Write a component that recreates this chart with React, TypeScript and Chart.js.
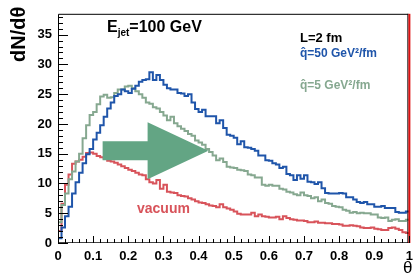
import React, { useEffect, useRef } from "react";
import { Chart, registerables } from "chart.js";

Chart.register(...registerables);

// Histogram binning (100 bins on theta in [0, 1])
const BIN_LOW = 0;
const BIN_WIDTH = 0.01;

// qhat = 50 GeV^2/fm (blue)
const q50 = [
  0.8, 2.6, 4.5, 6.1, 8.3, 10.2, 11.8, 13.4, 14.9, 15.8,
  17.4, 18.5, 19.8, 21.2, 22.6, 23.6, 24.7, 25.0, 25.8, 25.5,
  25.2, 25.9, 26.4, 27.1, 27.4, 27.5, 28.7, 27.4, 28.2, 27.4,
  26.6, 26.0, 25.8, 25.8, 25.2, 25.1, 24.7, 25.0, 23.6, 22.5,
  22.0, 22.4, 21.3, 21.3, 21.3, 20.1, 20.6, 19.3, 18.2, 18.0,
  17.7, 16.6, 17.1, 16.1, 16.0, 15.8, 15.5, 14.7, 14.7, 13.9,
  13.8, 13.4, 13.2, 12.6, 12.8, 11.6, 11.4, 10.6, 11.4, 10.8,
  11.4, 10.3, 10.2, 9.9, 10.2, 9.2, 8.4, 8.3, 8.3, 8.3,
  8.4, 8.3, 7.7, 7.7, 7.3, 6.9, 6.7, 6.9, 6.5, 6.5,
  6.1, 6.1, 6.2, 5.9, 5.9, 5.9, 5.2, 5.1, 5.1, 5.3,
];

// qhat = 5 GeV^2/fm (grey-green)
const q5 = [
  3.5, 6.4, 8.3, 10.7, 12.0, 13.7, 15.0, 17.6, 19.8, 21.5,
  22.0, 23.3, 24.6, 24.9, 24.4, 24.5, 25.2, 25.8, 25.8, 26.3,
  26.4, 26.0, 25.5, 25.0, 24.4, 23.6, 23.4, 22.8, 22.6, 22.0,
  21.4, 20.6, 21.2, 20.1, 19.6, 19.2, 18.8, 18.3, 18.0, 17.2,
  16.9, 16.5, 15.8, 15.3, 14.7, 13.9, 14.2, 13.6, 12.8, 12.7,
  12.6, 12.3, 12.2, 12.1, 11.5, 11.4, 11.0, 11.0, 9.8, 9.6,
  9.8, 9.6, 9.6, 9.1, 9.0, 8.6, 8.5, 8.2, 8.0, 8.5,
  8.0, 7.9, 7.5, 7.7, 7.0, 7.3, 6.7, 6.6, 6.2, 6.1,
  6.0, 5.6, 5.4, 5.1, 5.2, 5.0, 5.1, 5.0, 5.0, 4.8,
  4.8, 4.3, 4.2, 4.3, 3.7, 3.9, 4.0, 3.7, 3.7, 3.9,
];

// vacuum (red)
const vacuum = [
  2.0, 6.6, 9.8, 11.5, 13.3, 13.7, 14.0, 14.5, 15.1, 15.2,
  15.0, 14.6, 14.4, 14.2, 13.8, 13.7, 13.5, 13.2, 12.9, 12.6,
  12.3, 12.1, 11.8, 11.5, 11.4, 10.7, 10.2, 10.0, 10.6, 9.1,
  9.8, 8.6, 8.5, 8.4, 8.0, 7.9, 7.8, 7.5, 7.3, 7.0,
  6.8, 6.7, 6.5, 6.3, 6.2, 6.0, 6.5, 6.0, 5.8, 5.6,
  5.3, 4.9, 4.8, 4.8, 4.8, 5.1, 4.5, 4.8, 4.5, 4.4,
  4.3, 4.3, 4.4, 4.0, 4.5, 4.2, 4.0, 3.9, 3.8, 3.8,
  3.7, 3.5, 3.5, 3.6, 3.4, 3.4, 3.3, 3.3, 3.2, 3.2,
  3.1, 2.9, 2.9, 3.0, 2.9, 2.8, 2.6, 2.5, 2.5, 2.6,
  2.4, 2.3, 2.2, 2.2, 2.5, 2.6, 2.4, 2.2, 1.8, 1.7,
];

const xTickValues = [0, 0.1, 0.2, 0.3, 0.4, 0.5, 0.6, 0.7, 0.8, 0.9, 1];
const xTickLabels = ["0", "0.1", "0.2", "0.3", "0.4", "0.5", "0.6", "0.7", "0.8", "0.9", "1"];
const yTickValues = [0, 5, 10, 15, 20, 25, 30, 35];
const yTickLabels = ["0", "5", "10", "15", "20", "25", "30", "35"];

const X_MIN = 0;
const X_MAX = 1;
const Y_MIN = 0;
const Y_MAX = 38.5;
const X_MINOR_STEP = 0.02;
const Y_MINOR_STEP = 1;

const FONT = "'Liberation Sans', Arial, Helvetica, sans-serif";
const BLUE = "#1f55aa";
const GREEN = "#86a890";
const RED = "#d8535a";
const ARROW = "#63a584";

function toSteps(vals: number[]) {
  const pts: { x: number; y: number }[] = [{ x: BIN_LOW, y: 0 }];
  vals.forEach((v, i) => pts.push({ x: BIN_LOW + i * BIN_WIDTH, y: v }));
  pts.push({ x: BIN_LOW + vals.length * BIN_WIDTH, y: vals[vals.length - 1] });
  return pts;
}

const decorPlugin = {
  id: "decor",
  afterDatasetsDraw(chart: any) {
    const { ctx, scales } = chart;
    const xs = scales.x;
    const ys = scales.y;
    // big arrow (data coordinates)
    const tail = 0.127, headBase = 0.255, tip = 0.428;
    const cy = 15.5, shaftHalf = 1.6, headHalf = 4.8;
    ctx.save();
    ctx.fillStyle = ARROW;
    ctx.beginPath();
    ctx.moveTo(xs.getPixelForValue(tail), ys.getPixelForValue(cy + shaftHalf));
    ctx.lineTo(xs.getPixelForValue(headBase), ys.getPixelForValue(cy + shaftHalf));
    ctx.lineTo(xs.getPixelForValue(headBase), ys.getPixelForValue(cy + headHalf));
    ctx.lineTo(xs.getPixelForValue(tip), ys.getPixelForValue(cy));
    ctx.lineTo(xs.getPixelForValue(headBase), ys.getPixelForValue(cy - headHalf));
    ctx.lineTo(xs.getPixelForValue(headBase), ys.getPixelForValue(cy - shaftHalf));
    ctx.lineTo(xs.getPixelForValue(tail), ys.getPixelForValue(cy - shaftHalf));
    ctx.closePath();
    ctx.fill();
    ctx.restore();
  },
  afterDraw(chart: any) {
    const { ctx, chartArea, scales } = chart;
    const xs = scales.x;
    const ys = scales.y;
    const { left, right, top, bottom } = chartArea;
    ctx.save();
    // frame
    ctx.lineWidth = 1;
    ctx.strokeStyle = "#000";
    ctx.beginPath();
    ctx.moveTo(left + 0.5, bottom);
    ctx.lineTo(left + 0.5, top + 0.5);
    ctx.lineTo(right - 1, top + 0.5);
    ctx.stroke();
    ctx.strokeStyle = "#444";
    ctx.beginPath();
    ctx.moveTo(left, bottom - 0.5);
    ctx.lineTo(right, bottom - 0.5);
    ctx.stroke();
    ctx.strokeStyle = "#000";
    ctx.beginPath();
    ctx.moveTo(right - 1.5, top);
    ctx.lineTo(right - 1.5, bottom);
    ctx.stroke();
    ctx.strokeStyle = "#e01010";
    ctx.lineWidth = 2;
    ctx.beginPath();
    ctx.moveTo(right, top);
    ctx.lineTo(right, bottom);
    ctx.stroke();

    // inside tick marks
    ctx.strokeStyle = "#000";
    ctx.lineWidth = 1;
    ctx.beginPath();
    for (let v = Y_MIN; v <= Y_MAX + 1e-9; v += Y_MINOR_STEP) {
      const py = Math.round(ys.getPixelForValue(v)) + 0.5;
      const major = Math.abs(v / 5 - Math.round(v / 5)) < 1e-6;
      ctx.moveTo(left, py);
      ctx.lineTo(left + (major ? 10 : 5), py);
    }
    for (let v = X_MIN; v <= X_MAX + 1e-9; v += X_MINOR_STEP) {
      const px = Math.round(xs.getPixelForValue(v)) + 0.5;
      const major = Math.abs(v * 10 - Math.round(v * 10)) < 1e-6;
      ctx.moveTo(px, bottom);
      ctx.lineTo(px, bottom - (major ? 7 : 4));
    }
    ctx.stroke();

    // axis titles
    ctx.fillStyle = "#000";
    ctx.font = `bold 20px ${FONT}`;
    ctx.textAlign = "left";
    ctx.textBaseline = "alphabetic";
    ctx.save();
    ctx.translate(25, 62);
    ctx.rotate(-Math.PI / 2);
    ctx.fillText("dN/d\u03b8", 0, 0);
    ctx.restore();
    ctx.font = `17px ${FONT}`;
    ctx.fillText("\u03b8", 403, 273);

    // E_jet label
    ctx.font = `bold 16px ${FONT}`;
    ctx.fillText("E", 107, 32);
    let w = ctx.measureText("E").width;
    ctx.font = `bold 10px ${FONT}`;
    ctx.fillText("jet", 107 + w, 36);
    w += ctx.measureText("jet").width;
    ctx.font = `bold 16px ${FONT}`;
    ctx.fillText("=100 GeV", 107 + w, 32);

    // right-side labels
    ctx.font = `bold 13px ${FONT}`;
    ctx.fillText("L=2 fm", 300, 42);
    ctx.font = `bold 12px ${FONT}`;
    ctx.fillStyle = BLUE;
    ctx.fillText("q\u0302=50 GeV\u00b2/fm", 300, 57);
    ctx.fillStyle = GREEN;
    ctx.fillText("q\u0302=5 GeV\u00b2/fm", 300, 89);

    // vacuum label
    ctx.fillStyle = RED;
    ctx.font = `bold 14px ${FONT}`;
    ctx.fillText("vacuum", 137, 213);
    ctx.restore();
  },
};

export default function App() {
  const canvasRef = useRef<HTMLCanvasElement | null>(null);

  useEffect(() => {
    document.body.style.margin = "0";
    const canvas = canvasRef.current;
    if (!canvas) return;
    const tickFont = { family: FONT, size: 13, weight: "bold" as const };
    const chart = new Chart(canvas, {
      type: "line",
      data: {
        datasets: [
          { label: "q50", data: toSteps(q50), borderColor: BLUE, borderWidth: 2, stepped: true, pointRadius: 0, fill: false },
          { label: "q5", data: toSteps(q5), borderColor: GREEN, borderWidth: 2, stepped: true, pointRadius: 0, fill: false },
          { label: "vacuum", data: toSteps(vacuum), borderColor: RED, borderWidth: 2, stepped: true, pointRadius: 0, fill: false },
        ],
      },
      options: {
        responsive: false,
        animation: false,
        devicePixelRatio: 1,
        layout: { padding: { top: 4, right: 8, left: 0, bottom: 0 } },
        plugins: { legend: { display: false }, tooltip: { enabled: false } },
        scales: {
          x: {
            type: "linear",
            min: X_MIN,
            max: X_MAX,
            grid: { display: false, drawTicks: false },
            border: { display: false },
            ticks: {
              font: tickFont,
              color: "#000",
              padding: 6,
              maxRotation: 0,
              autoSkip: false,
              callback: (v: any) => {
                const i = xTickValues.findIndex((t) => Math.abs(t - v) < 1e-9);
                return i >= 0 ? xTickLabels[i] : "";
              },
            },
            afterBuildTicks: (s: any) => {
              s.ticks = xTickValues.map((v) => ({ value: v }));
            },
            afterFit: (s: any) => {
              s.height = 36;
            },
          },
          y: {
            type: "linear",
            min: Y_MIN,
            max: Y_MAX,
            grid: { display: false, drawTicks: false },
            border: { display: false },
            ticks: {
              font: tickFont,
              color: "#000",
              padding: 6,
              autoSkip: false,
              callback: (v: any) => {
                const i = yTickValues.findIndex((t) => Math.abs(t - v) < 1e-9);
                return i >= 0 ? yTickLabels[i] : "";
              },
            },
            afterBuildTicks: (s: any) => {
              s.ticks = yTickValues.map((v) => ({ value: v }));
            },
            afterFit: (s: any) => {
              s.width = 58;
            },
          },
        },
      },
      plugins: [decorPlugin],
    });
    return () => chart.destroy();
  }, []);

  return (
    <div style={{ width: 419, height: 279, background: "#fff" }}>
      <canvas ref={canvasRef} width={419} height={279} style={{ display: "block" }} />
    </div>
  );
}
